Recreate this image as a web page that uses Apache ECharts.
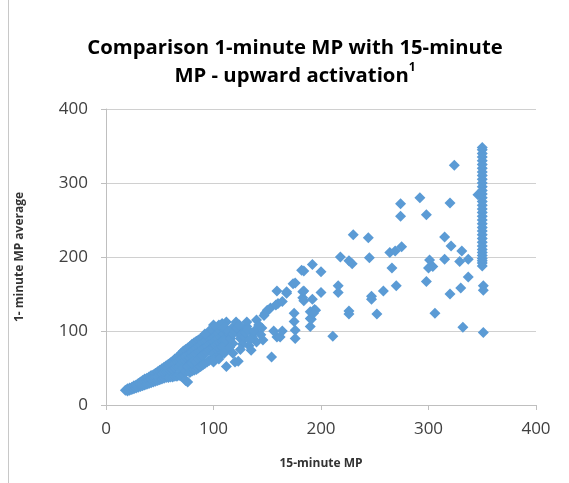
<!DOCTYPE html>
<html>
<head>
<meta charset="utf-8">
<script src="https://cdn.jsdelivr.net/npm/echarts@6/dist/echarts.min.js"></script>
<style>html,body{margin:0;padding:0;background:#fff}#c{width:569px;height:483px}</style>
</head>
<body>
<div id="c"></div>
<script>
// 15-minute MP (x) and 1-minute MP average (y)
var xValues = [
18,20,20,22,22,24,24,26,26,28,28,30,30,30,32,32,32,34,34,34,36,36,36,38,38,38,40,40,40,42,42,42,44,44,44,46,46,46,48,48,48,50,50,50,52,52,52,54,54,54,56,56,56,
58,58,58,58,60,60,60,60,62,62,62,62,64,64,64,64,66,66,66,66,68,68,68,68,
70,70,70,70,70,72,72,72,72,72,74,74,74,74,74,76,76,76,76,76,78,78,78,78,78,80,80,80,80,80,82,82,82,82,82,84,84,84,84,84,86,86,86,86,86,88,88,88,88,88,
90,90,90,90,90,92,92,92,92,92,94,94,94,94,94,96,96,96,96,96,98,98,98,98,98,100,100,100,100,100,100,102,102,102,102,102,104,104,104,104,104,104,106,106,106,106,106,108,108,108,108,110,110,110,110,
112,112,112,115,118,118,121,123,123,112,120,125,128,128,131,131,133,135,136,137,140,140,145,146,148,150,147,153,154,156,158,159,160,159,162,164,164,168,168,174,176,175,175,176,176,
105,108,110,114,116,118,120,122,124,126,127,129,130,132,134,138,142,144,100,96,92,115,110,105,100,118,125,
182,184,183,183,184,184,190,190,190,192,192,194,195,191,193,200,200,211,218,216,216,226,226,226,229,230,244,245,247,247,252,258,266,270,264,269,275,274,274,292,298,301,300,304,298,306,
315,320,324,321,315,331,329,337,337,330,320,332,351,351,351,346,
350,350,350,350,350,350,350,350,350,350,350,350,350,350,350,350,350,350,350,350,350,350,350,350,350,350,350,350,350,350,350,350,350,350,350
];
var yValues = [
20,19,22,20,23,21,24,22,26,23,27,24,29,26,25,31,28,26,33,29,27,35,31,28,36,32,29,38,34,30,40,35,31,41,37,32,43,38,33,45,39,34,47,41,35,49,42,36,51,44,37,53,45,
37,55,46,50,38,57,47,52,38,59,48,54,39,62,50,56,39,64,52,58,40,67,53,60,
39,70,55,62,47,41,73,58,64,50,33,75,60,66,45,31,77,62,68,52,44,79,64,70,55,46,82,66,72,57,47,84,68,75,60,48,86,70,77,58,50,88,72,79,62,52,90,74,82,65,
54,91,76,84,67,56,93,78,86,70,58,95,80,88,72,60,96,82,90,74,62,98,84,92,76,63,100,86,94,78,70,64,102,88,96,80,66,104,90,98,82,74,68,92,100,84,76,70,94,86,78,72,96,88,80,
101,88,112,95,83,105,112,97,59,52,58,90,88,100,106,112,80,74,92,97,115,85,104,88,124,128,121,131,65,100,135,92,137,154,92,140,100,151,153,164,165,124,113,101,90,
108,110,105,100,90,96,100,104,108,95,82,92,98,102,88,100,108,95,108,100,96,78,70,62,58,70,75,
182,181,153,145,154,141,126,117,106,190,143,129,128,116,124,180,152,93,200,161,152,127,123,195,191,230,226,199,147,143,123,154,185,161,206,208,214,272,255,280,257,196,185,187,167,124,
227,273,324,215,197,208,194,197,173,158,150,105,98,161,155,284,
188,192,195,198,202,206,210,215,220,225,230,235,240,245,250,255,260,265,270,275,280,285,290,295,300,305,310,315,320,325,330,335,340,345,348
];
var xTicks = [0, 100, 200, 300, 400];
var yTicks = [0, 100, 200, 300, 400];

var points = xValues.map(function (x, i) { return [x, yValues[i]]; });

var chart = echarts.init(document.getElementById('c'), null, {renderer: 'canvas'});
var labelColor = '#404040';
chart.setOption({
  animation: false,
  backgroundColor: '#ffffff',
  title: {
    text: 'Comparison 1-minute MP with 15-minute\nMP - upward activation{s|1}',
    left: 290, top: 29, textAlign: 'center',
    textStyle: {
      fontFamily: 'Open Sans', fontWeight: 'bold', fontSize: 20.3, color: '#000', lineHeight: 28,
      rich: { s: { fontFamily: 'Open Sans', fontWeight: 'bold', fontSize: 12, verticalAlign: 'top', lineHeight: 28, padding: [0,0,10,0] } }
    }
  },
  graphic: [{
    type: 'line', shape: {x1: 8.5, y1: 0, x2: 8.5, y2: 483},
    style: {stroke: '#c8c8c8', lineWidth: 1}
  }],
  grid: { left: 106, right: 33, top: 109, bottom: 78 },
  xAxis: {
    type: 'value', min: xTicks[0], max: xTicks[xTicks.length - 1], interval: 100,
    name: '15-minute MP', nameLocation: 'middle', nameGap: 53,
    nameTextStyle: { fontFamily: 'Open Sans', fontWeight: 'bold', fontSize: 12, color: '#333' },
    axisLine: { show: true, lineStyle: { color: '#bfbfbf' } },
    axisTick: { show: true, length: 5, lineStyle: { color: '#bfbfbf' } },
    axisLabel: { fontFamily: 'Open Sans', fontSize: 17, color: labelColor, margin: 16 },
    splitLine: { show: false }
  },
  yAxis: {
    type: 'value', min: yTicks[0], max: yTicks[yTicks.length - 1], interval: 100,
    name: '1- minute MP average', nameLocation: 'middle', nameGap: 80, nameRotate: 90,
    nameTextStyle: { fontFamily: 'Open Sans', fontWeight: 'bold', fontSize: 12, color: '#333' },
    axisLine: { show: true, lineStyle: { color: '#bfbfbf' } },
    axisTick: { show: true, length: 5, lineStyle: { color: '#bfbfbf' } },
    axisLabel: { fontFamily: 'Open Sans', fontSize: 17, color: labelColor, margin: 18 },
    splitLine: { show: true, lineStyle: { color: '#d0d0d0', width: 1 } }
  },
  series: [{
    type: 'scatter', data: points, symbol: 'diamond', symbolSize: 11,
    itemStyle: { color: '#5b9bd5', opacity: 1 }
  }]
});
</script>
</body>
</html>
